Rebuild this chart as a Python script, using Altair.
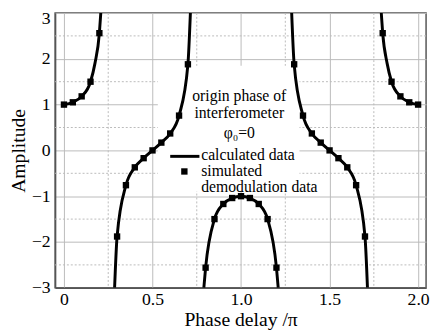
import altair as alt
import pandas as pd

# ---- curve branches ----
branch_x = [
    [0.0, 0.05, 0.1, 0.15, 0.175, 0.2, 0.208],
    [0.286, 0.3, 0.35, 0.4, 0.45, 0.5, 0.55, 0.6, 0.65, 0.7, 0.714],
    [0.79, 0.8, 0.85, 0.9, 0.95, 1.0, 1.05, 1.1, 1.15, 1.2, 1.21],
    [1.286, 1.3, 1.35, 1.4, 1.45, 1.5, 1.55, 1.6, 1.65, 1.7, 1.714],
    [1.792, 1.8, 1.825, 1.85, 1.9, 1.95, 2.0],
]
branch_y = [
    [1.0, 1.05, 1.18, 1.5, 1.9, 2.56, 3.0],
    [-3.0, -1.88, -0.76, -0.37, -0.17, 0.0, 0.17, 0.37, 0.76, 1.88, 3.0],
    [-3.0, -2.56, -1.5, -1.17, -1.04, -1.0, -1.04, -1.17, -1.5, -2.56, -3.0],
    [3.0, 1.88, 0.76, 0.37, 0.17, 0.0, -0.17, -0.37, -0.76, -1.88, -3.0],
    [3.0, 2.56, 1.9, 1.5, 1.18, 1.05, 1.0],
]

# ---- simulated demodulation data (markers) ----
sim_x = [0.0, 0.05, 0.1, 0.15, 0.2,
         0.3, 0.35, 0.4, 0.45, 0.5, 0.55, 0.6, 0.65, 0.7,
         0.8, 0.85, 0.9, 0.95, 1.0, 1.05, 1.1, 1.15, 1.2,
         1.3, 1.35, 1.4, 1.45, 1.5, 1.55, 1.6, 1.65, 1.7,
         1.8, 1.85, 1.9, 1.95, 2.0]
sim_y = [1.0, 1.05, 1.18, 1.5, 2.56,
         -1.88, -0.76, -0.37, -0.17, 0.0, 0.17, 0.37, 0.76, 1.88,
         -2.56, -1.5, -1.17, -1.04, -1.0, -1.04, -1.17, -1.5, -2.56,
         1.88, 0.76, 0.37, 0.17, 0.0, -0.17, -0.37, -0.76, -1.88,
         2.56, 1.5, 1.18, 1.05, 1.0]

x_ticks = [0, 0.5, 1.0, 1.5, 2.0]
y_ticks = [-3, -2, -1, 0, 1, 2, 3]
x_minor = [0.25, 0.75, 1.25, 1.75]
y_minor = [-2.5, -1.5, -0.5, 0.5, 1.5, 2.5]

note_lines = ["origin phase of", "interferometer", "φ₀=0"]
note_y = [1.18, 0.82, 0.38]
legend_labels = ["calculated data", "simulated", "demodulation data"]
legend_label_y = [-0.11, -0.46, -0.81]

FONT = "Liberation Serif"
TEXT_SIZE = 16
X_DOMAIN = [-0.05, 2.045]
Y_DOMAIN = [-3, 3]

rows = []
for i, (bx, by) in enumerate(zip(branch_x, branch_y)):
    for a, b in zip(bx, by):
        rows.append({"x": a, "y": b, "branch": i})
curve_df = pd.DataFrame(rows)
sim_df = pd.DataFrame({"x": sim_x, "y": sim_y})

xs = alt.Scale(domain=X_DOMAIN, nice=False, zero=False)
ys = alt.Scale(domain=Y_DOMAIN, nice=False, zero=False)

x_axis = alt.Axis(values=x_ticks, title="Phase delay /π", grid=True,
                  labelExpr="datum.value == 0 ? '0' : format(datum.value, '.1f')")
y_axis = alt.Axis(values=y_ticks, title="Amplitude", grid=True,
                  labelOffset={"condition": {"test": "datum.value === 3", "value": 6}, "value": 0})

base_x = alt.X("x:Q", scale=xs, axis=x_axis)
base_y = alt.Y("y:Q", scale=ys, axis=y_axis)

minor_v = alt.Chart(pd.DataFrame({"x": x_minor})).mark_rule(
    color="#bbbbbb", strokeDash=[2, 2], strokeWidth=1
).encode(x=alt.X("x:Q", scale=xs, axis=x_axis))
minor_h = alt.Chart(pd.DataFrame({"y": y_minor})).mark_rule(
    color="#bbbbbb", strokeDash=[2, 2], strokeWidth=1
).encode(y=alt.Y("y:Q", scale=ys, axis=y_axis))

box_df = pd.DataFrame({"x": [0.53], "x2": [1.33], "y": [-0.9], "y2": [1.85]})
box = alt.Chart(box_df).mark_rect(color="white").encode(
    x=alt.X("x:Q", scale=xs, axis=x_axis), x2="x2:Q",
    y=alt.Y("y:Q", scale=ys, axis=y_axis), y2="y2:Q"
)

lines = alt.Chart(curve_df).mark_line(
    color="black", strokeWidth=3, interpolate="monotone", clip=True
).encode(x=base_x, y=base_y, detail="branch:N", order="x:Q")

points = alt.Chart(sim_df).mark_point(
    shape="square", filled=True, color="black", size=42, opacity=1
).encode(x=base_x, y=base_y)

note = alt.Chart(pd.DataFrame({"x": [0.99] * 3, "y": note_y, "t": note_lines})).mark_text(
    font=FONT, fontSize=TEXT_SIZE, align="center", baseline="middle", color="black"
).encode(x=base_x, y=base_y, text="t:N")

leg_line = alt.Chart(pd.DataFrame({"x": [0.6], "x2": [0.765], "y": [-0.13]})).mark_rule(
    color="black", strokeWidth=3
).encode(x=base_x, x2="x2:Q", y=base_y)
leg_pt = alt.Chart(pd.DataFrame({"x": [0.68], "y": [-0.46]})).mark_point(
    shape="square", filled=True, color="black", size=42, opacity=1
).encode(x=base_x, y=base_y)
leg_text = alt.Chart(pd.DataFrame({"x": [0.775] * 3, "y": legend_label_y, "t": legend_labels})).mark_text(
    font=FONT, fontSize=TEXT_SIZE, align="left", baseline="middle", color="black"
).encode(x=base_x, y=base_y, text="t:N")

chart = alt.layer(
    minor_v, minor_h, box, lines, points, note, leg_line, leg_pt, leg_text
).properties(
    width=378, height=280,
    autosize=alt.AutoSizeParams(type="none"),
    padding={"left": 48, "top": 2, "right": 4, "bottom": 45},
).configure_view(
    stroke="#555555", strokeWidth=1.5
).configure_axis(
    labelFont=FONT, labelFontSize=18, labelColor="black",
    titleFont=FONT, titleFontSize=20, titleFontWeight="normal", titleColor="black",
    gridColor="#bbbbbb", gridWidth=1, domainColor="#555555", domainWidth=1.5,
    ticks=False,
).configure_axisX(
    labelPadding=3, titlePadding=1
).configure_axisY(
    labelPadding=5, titlePadding=3
)

chart.save("out.html", embed_options={"renderer": "svg", "actions": False})
